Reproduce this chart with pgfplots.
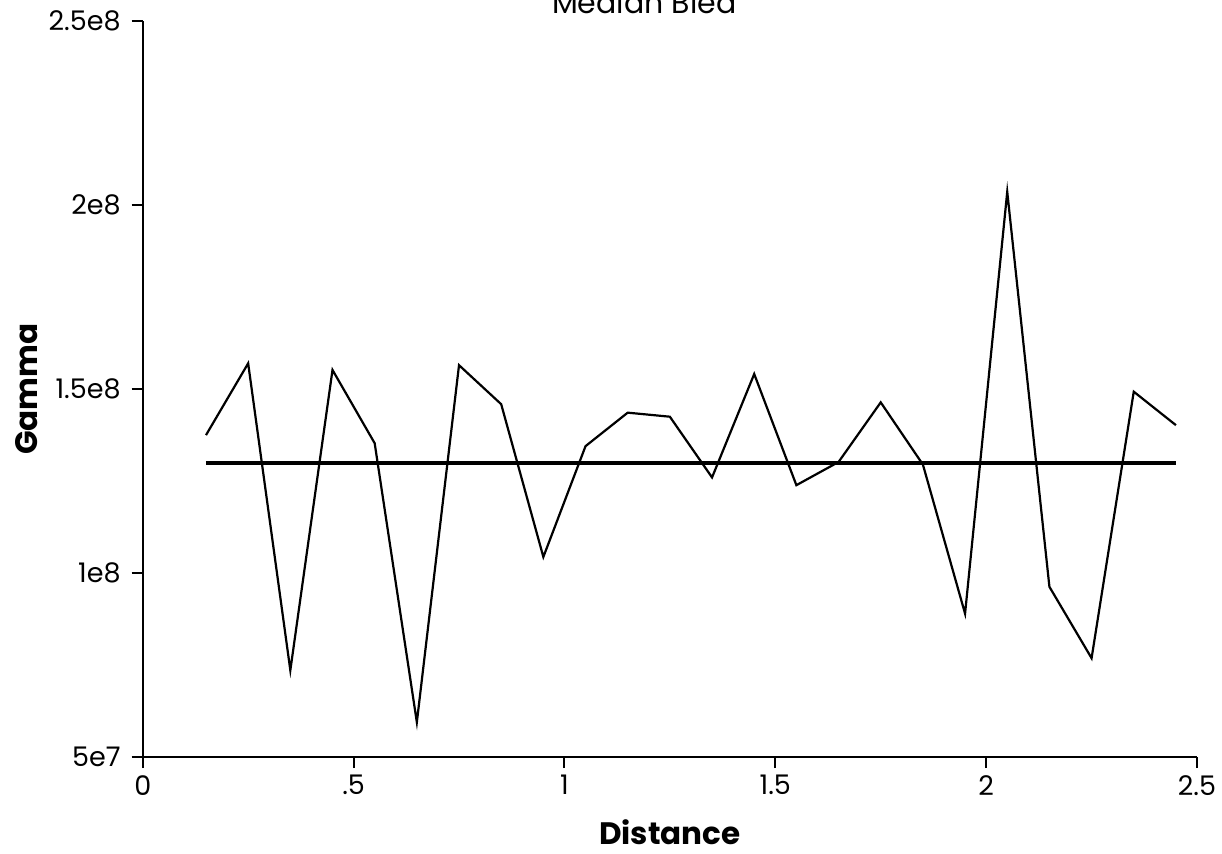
\documentclass[border=0pt]{standalone}
\usepackage{pgfplots}
\pgfplotsset{compat=1.18}
\usepackage{fontspec}
\setmainfont{Poppins}
\usetikzlibrary{calc}

\begin{document}
\begin{tikzpicture}
\begin{axis}[
    name=ax,
    scale only axis,
    width=527pt, height=368pt,
    xmin=0, xmax=2.5,
    ymin=5e7, ymax=2.5e8,
    axis lines=left,
    axis line style={-, line width=1pt},
    xtick={0,0.5,1,1.5,2,2.5},
    xticklabels={0,.5,1,1.5,2,2.5},
    ytick={5e7,1e8,1.5e8,2e8,2.5e8},
    yticklabels={5e7,1e8,1.5e8,2e8,2.5e8},
    scaled x ticks=false, scaled y ticks=false,
    tick align=outside,
    major tick length=5.5pt,
    tick style={line width=1pt, black},
    ticklabel style={font=\fontsize{13.5}{15}\selectfont},
    yticklabel style={xshift=-2pt},
    xlabel={Distance},
    ylabel={Gamma},
    label style={font=\bfseries\fontsize{15.5}{18}\selectfont, inner sep=0pt},
    xlabel style={at={(axis description cs:0.5,-0.102)}, anchor=center},
    ylabel style={at={(axis description cs:-0.0994,0.5)}, anchor=base},
    title={Median Bled},
    title style={at={(axis description cs:0.4757,1)}, anchor=base, yshift=-2pt,
        inner sep=0pt, font=\fontsize{15}{18}\selectfont},
]
% semivariogram values
\addplot[black, line width=1.1pt, mark=none] coordinates {
    (0.15,137.5e6) (0.25,157.0e6) (0.35,73.6e6) (0.45,155.2e6)
    (0.55,135.3e6) (0.65,59.5e6) (0.75,156.5e6) (0.85,145.9e6)
    (0.95,104.4e6) (1.05,134.5e6) (1.15,143.6e6) (1.25,142.5e6)
    (1.35,126.0e6) (1.45,154.1e6) (1.55,123.9e6) (1.65,130.2e6)
    (1.75,146.4e6) (1.85,129.5e6) (1.95,89.0e6) (2.05,203.6e6)
    (2.15,96.3e6) (2.25,76.9e6) (2.35,149.3e6) (2.45,140.2e6)
};
% sill
\addplot[black, line width=2pt, mark=none] coordinates {
    (0.15,1.3e8) (2.45,1.3e8)
};
\end{axis}
\pgfresetboundingbox
\useasboundingbox ($(ax.south west)+(-71.35pt,-48pt)$) rectangle ($(ax.north east)+(12.5pt,10.5pt)$);
\end{tikzpicture}
\end{document}
